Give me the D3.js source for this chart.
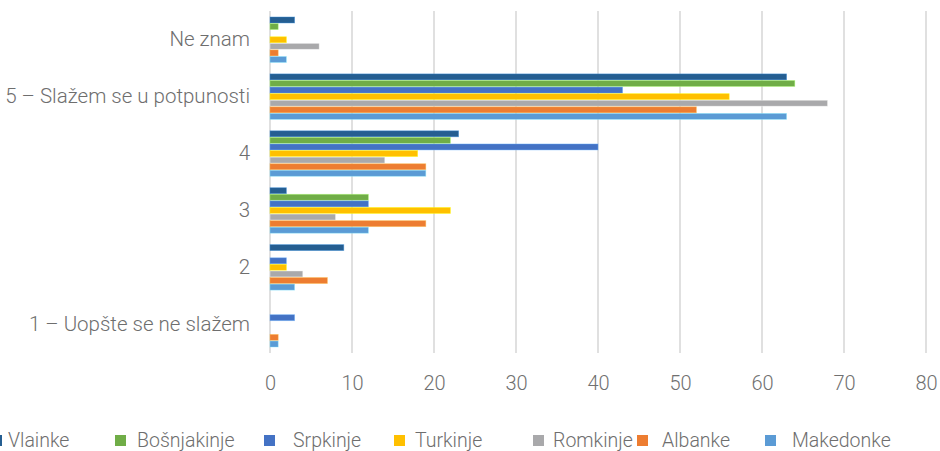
<!DOCTYPE html>
<html><head><meta charset="utf-8">
<script src="https://cdn.jsdelivr.net/npm/d3@7"></script>
<style>
html,body{margin:0;padding:0;background:#fff;}
svg{display:block;}
text{font-family:Roboto,"DejaVu Sans",sans-serif;font-weight:300;}
</style></head>
<body>
<svg id="chart" width="940" height="451"></svg>
<script>
const categories = ["Ne znam", "5 – Slažem se u potpunosti", "4", "3", "2", "1 – Uopšte se ne slažem"];
const seriesNames = ["Vlainke", "Bošnjakinje", "Srpkinje", "Turkinje", "Romkinje", "Albanke", "Makedonke"];
const Vlainke     = [3, 63, 23, 2, 9, 0];
const Bosnjakinje = [1, 64, 22, 12, 0, 0];
const Srpkinje    = [0, 43, 40, 12, 2, 3];
const Turkinje    = [2, 56, 18, 22, 2, 0];
const Romkinje    = [6, 68, 14, 8, 4, 0];
const Albanke     = [1, 52, 19, 19, 7, 1];
const Makedonke   = [2, 63, 19, 12, 3, 1];
const xTicks = [0, 10, 20, 30, 40, 50, 60, 70, 80];

const seriesValues = [Vlainke, Bosnjakinje, Srpkinje, Turkinje, Romkinje, Albanke, Makedonke];
const colors = ["#255e91", "#70ad47", "#4472c4", "#ffc000", "#a9a9ab", "#ed7d31", "#5b9bd5"];
const legendMarkerX = [-9, 115, 264, 394, 533, 637, 765];
const legendTextX = [8, 137, 293, 415, 553, 662, 792];

const svg = d3.select("#chart");
const x = d3.scaleLinear().domain([0, 80]).range([270, 926]);
const y0 = d3.scaleBand().domain(categories).range([11, 353]).paddingInner(0.19).paddingOuter(0.1);
const y1 = d3.scaleBand().domain(seriesNames).range([0, y0.bandwidth()]);

// gridlines
svg.append("g").selectAll("line").data(xTicks).join("line")
  .attr("x1", d => x(d)).attr("x2", d => x(d))
  .attr("y1", 11).attr("y2", 353)
  .attr("stroke", "#d9d9d9").attr("stroke-width", 1.6);

// bars
const data = [];
categories.forEach((c, i) => seriesNames.forEach((s, j) => data.push({c, s, j, v: seriesValues[j][i]})));
svg.append("g").selectAll("rect").data(data.filter(d => d.v > 0)).join("rect")
  .attr("x", x(0))
  .attr("y", d => y0(d.c) + y1(d.s) + 0.3)
  .attr("width", d => x(d.v) - x(0))
  .attr("height", y1.bandwidth() - 0.6)
  .attr("fill", d => colors[d.j])
  .attr("stroke", d => d3.color(colors[d.j]).brighter(1.2))
  .attr("stroke-opacity", 0.5)
  .attr("stroke-width", 0.8);

// x axis labels
const xAxis = d3.axisBottom(x).tickValues(xTicks).tickSize(0).tickPadding(0);
const gx = svg.append("g").attr("transform", "translate(0,376)").call(xAxis);
gx.select(".domain").remove();
gx.selectAll("text").attr("fill", "#707070").style("font-size", "20px")
  .attr("dy", "0.71em").attr("y", 0);

// y axis labels
const yAxis = d3.axisLeft(y0).tickSize(0).tickPadding(0);
const gy = svg.append("g").attr("transform", "translate(250,0)").call(yAxis);
gy.select(".domain").remove();
gy.selectAll("text").attr("fill", "#6e6e6e").style("font-size", "20.5px").attr("x", 0);

// legend
const lg = svg.append("g");
seriesNames.forEach((s, i) => {
  lg.append("rect").attr("x", legendMarkerX[i]).attr("y", 435).attr("width", 11).attr("height", 11).attr("fill", colors[i]);
  lg.append("text").attr("x", legendTextX[i]).attr("y", 447).attr("fill", "#6e6e6e").style("font-size", "19.5px").text(s);
});
</script>
</body></html>
